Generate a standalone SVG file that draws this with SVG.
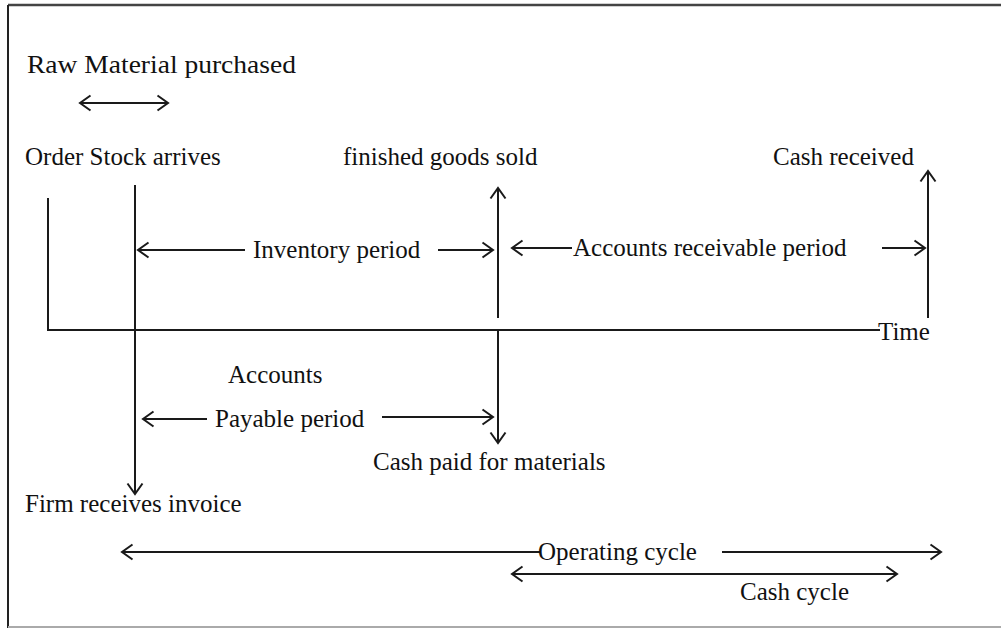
<svg xmlns="http://www.w3.org/2000/svg" width="1001" height="628" viewBox="0 0 1001 628">
<style>
text{font-family:"Liberation Serif","Times New Roman",serif;font-size:25px;fill:#111}
.ln{stroke:#1a1a1a;stroke-width:2;fill:none}
</style>
<defs>
<marker id="ah" viewBox="-13 -9 15 18" markerWidth="15" markerHeight="18" refX="0" refY="0" orient="auto-start-reverse" markerUnits="userSpaceOnUse">
<path d="M-10.5,-7.5 L0,0 L-10.5,7.5" fill="none" stroke="#1a1a1a" stroke-width="2"/>
</marker>
</defs>
<rect width="1001" height="628" fill="#fff"/>
<g id="frame">
<line x1="8" y1="5" x2="1001" y2="5" stroke="#444" stroke-width="2.5"/>
<line x1="8" y1="5" x2="8" y2="628" stroke="#222" stroke-width="2"/>
<line x1="8" y1="627" x2="1001" y2="627" stroke="#aaa" stroke-width="2"/>
</g>
<g id="connectors">
<line class="ln" x1="80" y1="103" x2="168" y2="103" marker-start="url(#ah)" marker-end="url(#ah)"/>
<polyline class="ln" points="48,198 48,330 880,330"/>
<line class="ln" x1="135" y1="185" x2="135" y2="494" marker-end="url(#ah)"/>
<line class="ln" x1="138" y1="250" x2="245" y2="250" marker-start="url(#ah)"/>
<line class="ln" x1="438" y1="250" x2="493" y2="250" marker-end="url(#ah)"/>
<line class="ln" x1="498" y1="318" x2="498" y2="188" marker-end="url(#ah)"/>
<line class="ln" x1="498" y1="330" x2="498" y2="443" marker-end="url(#ah)"/>
<line class="ln" x1="512" y1="248" x2="572" y2="248" marker-start="url(#ah)"/>
<line class="ln" x1="882" y1="248" x2="925" y2="248" marker-end="url(#ah)"/>
<line class="ln" x1="928" y1="318" x2="928" y2="171" marker-end="url(#ah)"/>
<line class="ln" x1="143" y1="419" x2="207" y2="419" marker-start="url(#ah)"/>
<line class="ln" x1="382" y1="417" x2="493" y2="417" marker-end="url(#ah)"/>
<line class="ln" x1="122" y1="552" x2="540" y2="552" marker-start="url(#ah)"/>
<line class="ln" x1="722" y1="552" x2="941" y2="552" marker-end="url(#ah)"/>
<line class="ln" x1="512" y1="574" x2="897" y2="574" marker-start="url(#ah)" marker-end="url(#ah)"/>
</g>
<g id="raw-material"><text x="27" y="73" textLength="269" lengthAdjust="spacingAndGlyphs">Raw Material purchased</text></g>
<g id="order-stock"><text x="25" y="165">Order Stock arrives</text></g>
<g id="finished-goods"><text x="343" y="165">finished goods sold</text></g>
<g id="cash-received"><text x="773" y="165">Cash received</text></g>
<g id="inventory-period"><text x="253" y="258">Inventory period</text></g>
<g id="receivable-period"><text x="573" y="256">Accounts receivable period</text></g>
<g id="time"><text x="878" y="340">Time</text></g>
<g id="accounts"><text x="228" y="383">Accounts</text></g>
<g id="payable-period"><text x="215" y="427">Payable period</text></g>
<g id="cash-paid"><text x="373" y="470">Cash paid for materials</text></g>
<g id="firm-invoice"><text x="25" y="512">Firm receives invoice</text></g>
<g id="operating-cycle"><text x="538" y="560">Operating cycle</text></g>
<g id="cash-cycle"><text x="740" y="600">Cash cycle</text></g>
</svg>
